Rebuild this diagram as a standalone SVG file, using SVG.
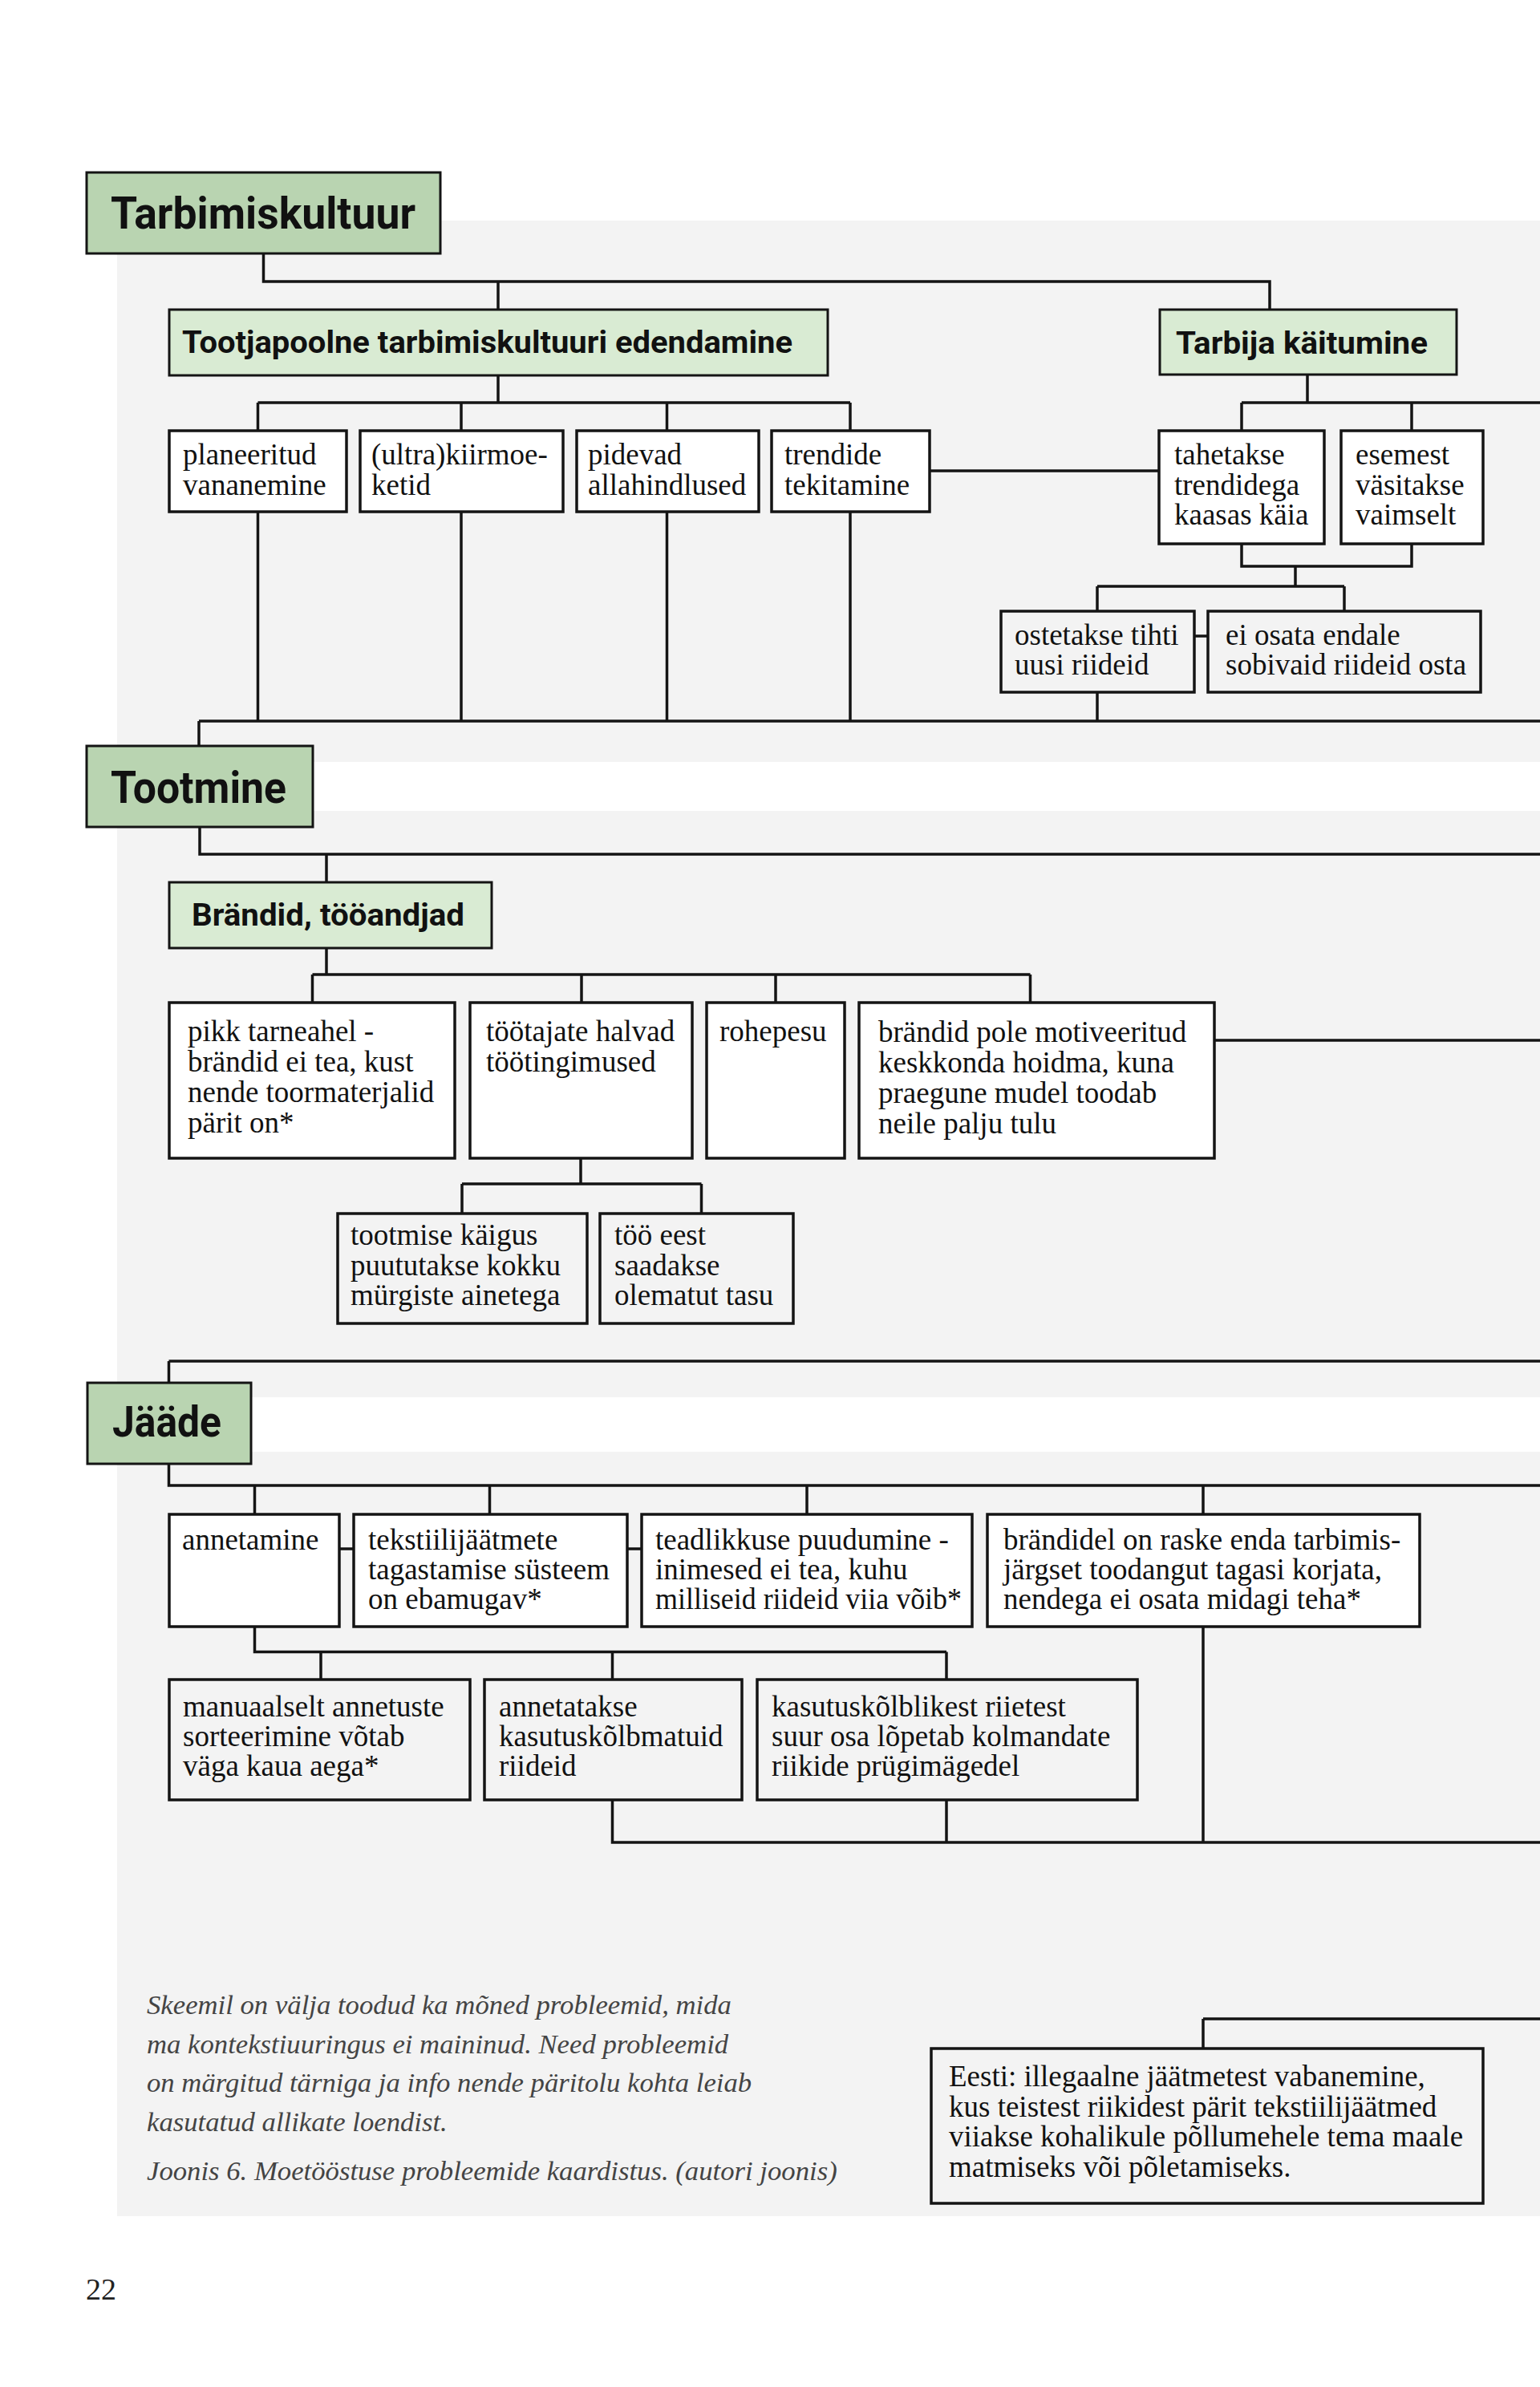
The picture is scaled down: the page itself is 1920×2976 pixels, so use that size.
<svg xmlns="http://www.w3.org/2000/svg" width="1920" height="2976" viewBox="0 0 1920 2976">
<style>
.panel{fill:#f3f3f3}
.band{fill:#ffffff}
.h1{fill:#b9d4b1;stroke:#141414;stroke-width:3}
.h2{fill:#d9ebd3;stroke:#141414;stroke-width:3}
.bw{fill:#ffffff;stroke:#141414;stroke-width:3.5}
.bg{fill:#f3f3f3;stroke:#141414;stroke-width:3.5}
.ht{font-family:Roboto,"Open Sans","Liberation Sans",sans-serif;font-weight:bold;fill:#111}
.t{font-family:"Liberation Serif","Times New Roman",serif;font-size:37px;fill:#111}
.it{font-family:"Liberation Serif","Times New Roman",serif;font-style:italic;font-size:34.7px;fill:#444}
.pg{font-family:"Liberation Serif","Times New Roman",serif;font-size:38px;fill:#222}
#connectors path{fill:none;stroke:#141414;stroke-width:3.5}
</style>
<rect x="0" y="0" width="1920" height="2976" fill="#ffffff"/>
<rect class="panel" x="146" y="275" width="1774" height="2488"/>
<rect class="band" x="146" y="950" width="1774" height="61"/>
<rect class="band" x="146" y="1742" width="1774" height="68"/>

<g id="connectors">
<path d="M328.5 316 V351 H1583 V385"/>
<path d="M621 351 V385"/>
<path d="M621 468 V502 M321.5 502 H1060 M321.5 502 V536 M575 502 V536 M831.5 502 V536 M1060 502 V536"/>
<path d="M1159 587 H1444"/>
<path d="M1630 467 V502 M1548 502 H1920 M1548 502 V536 M1760 502 V536"/>
<path d="M1548 678 V706 H1760 V678 M1615 706 V731 M1368 731 H1676 M1368 731 V761 M1676 731 V761"/>
<path d="M1489 793 H1505"/>
<path d="M1368 863 V899 M248 899 H1920 M248 899 V929 M321.5 638 V899 M575 638 V899 M831.5 638 V899 M1060 638 V899"/>
<path d="M249 1031 V1065 H1920 M407 1065 V1099"/>
<path d="M407 1182 V1215 M389.5 1215 H1284.5 M389.5 1215 V1249 M725 1215 V1249 M967 1215 V1249 M1284.5 1215 V1249"/>
<path d="M1514 1297 H1920"/>
<path d="M724 1444 V1476 M576 1476 H874.5 M576 1476 V1512 M874.5 1476 V1512"/>
<path d="M210.5 1697 H1920 M210.5 1697 V1723"/>
<path d="M210.5 1825 V1852 H1920 M317.5 1852 V1887 M610.5 1852 V1887 M1006 1852 V1887 M1500 1852 V1887"/>
<path d="M423 1931 H440 M782 1931 H799"/>
<path d="M317.5 2028 V2059.5 H1180 M400 2059.5 V2094 M763.5 2059.5 V2094 M1180 2059.5 V2094"/>
<path d="M763.5 2244 V2297 H1920 M1180 2244 V2297 M1500 2028 V2297"/>
<path d="M1500 2517 V2553 M1500 2517 H1920"/>
</g>

<g id="n-tarbimiskultuur">
<rect class="h1" x="108" y="215" width="441" height="101"/>
<text class="ht" x="138" y="285" font-size="55" textLength="380" lengthAdjust="spacingAndGlyphs">Tarbimiskultuur</text>
</g>
<g id="n-tootjapoolne">
<rect class="h2" x="211" y="386" width="821" height="82"/>
<text class="ht" x="227" y="440" font-size="38" textLength="761" lengthAdjust="spacingAndGlyphs">Tootjapoolne tarbimiskultuuri edendamine</text>
</g>
<g id="n-tarbija">
<rect class="h2" x="1446" y="386" width="370" height="81"/>
<text class="ht" x="1466" y="441" font-size="38" textLength="314" lengthAdjust="spacingAndGlyphs">Tarbija käitumine</text>
</g>

<g id="n-planeeritud">
<rect class="bw" x="211" y="537" width="221" height="101"/>
<text class="t" x="228" y="579">planeeritud</text>
<text class="t" x="228" y="617">vananemine</text>
</g>
<g id="n-ultra">
<rect class="bw" x="449" y="537" width="253" height="101"/>
<text class="t" x="463" y="579">(ultra)kiirmoe-</text>
<text class="t" x="463" y="617">ketid</text>
</g>
<g id="n-pidevad">
<rect class="bw" x="719" y="537" width="227" height="101"/>
<text class="t" x="733" y="579">pidevad</text>
<text class="t" x="733" y="617">allahindlused</text>
</g>
<g id="n-trendide">
<rect class="bw" x="962" y="537" width="197" height="101"/>
<text class="t" x="978" y="579">trendide</text>
<text class="t" x="978" y="617">tekitamine</text>
</g>
<g id="n-tahetakse">
<rect class="bw" x="1445" y="537" width="206" height="141"/>
<text class="t" x="1464" y="579">tahetakse</text>
<text class="t" x="1464" y="617">trendidega</text>
<text class="t" x="1464" y="654">kaasas käia</text>
</g>
<g id="n-esemest">
<rect class="bw" x="1672" y="537" width="177" height="141"/>
<text class="t" x="1690" y="579">esemest</text>
<text class="t" x="1690" y="617">väsitakse</text>
<text class="t" x="1690" y="654">vaimselt</text>
</g>
<g id="n-ostetakse">
<rect class="bg" x="1248" y="762" width="241" height="101"/>
<text class="t" x="1265" y="804">ostetakse tihti</text>
<text class="t" x="1265" y="841">uusi riideid</text>
</g>
<g id="n-eiosata">
<rect class="bg" x="1506" y="762" width="340" height="101"/>
<text class="t" x="1528" y="804">ei osata endale</text>
<text class="t" x="1528" y="841">sobivaid riideid osta</text>
</g>

<g id="n-tootmine">
<rect class="h1" x="108" y="930" width="282" height="101"/>
<text class="ht" x="138" y="1001" font-size="55" textLength="219" lengthAdjust="spacingAndGlyphs">Tootmine</text>
</g>
<g id="n-brandid">
<rect class="h2" x="211" y="1100" width="402" height="82"/>
<text class="ht" x="239" y="1154" font-size="39" textLength="340" lengthAdjust="spacingAndGlyphs">Brändid, tööandjad</text>
</g>
<g id="n-pikk">
<rect class="bw" x="211" y="1250" width="356" height="194"/>
<text class="t" x="234" y="1298">pikk tarneahel -</text>
<text class="t" x="234" y="1336">brändid ei tea, kust</text>
<text class="t" x="234" y="1374">nende toormaterjalid</text>
<text class="t" x="234" y="1412">pärit on*</text>
</g>
<g id="n-tootajate">
<rect class="bw" x="586" y="1250" width="277" height="194"/>
<text class="t" x="606" y="1298">töötajate halvad</text>
<text class="t" x="606" y="1336">töötingimused</text>
</g>
<g id="n-rohepesu">
<rect class="bw" x="881" y="1250" width="172" height="194"/>
<text class="t" x="897" y="1298">rohepesu</text>
</g>
<g id="n-brandidpole">
<rect class="bw" x="1071" y="1250" width="443" height="194"/>
<text class="t" x="1095" y="1299">brändid pole motiveeritud</text>
<text class="t" x="1095" y="1337">keskkonda hoidma, kuna</text>
<text class="t" x="1095" y="1375">praegune mudel toodab</text>
<text class="t" x="1095" y="1413">neile palju tulu</text>
</g>
<g id="n-tootmise">
<rect class="bg" x="421" y="1513" width="311" height="137"/>
<text class="t" x="437" y="1552">tootmise käigus</text>
<text class="t" x="437" y="1590">puututakse kokku</text>
<text class="t" x="437" y="1627">mürgiste ainetega</text>
</g>
<g id="n-tooeest">
<rect class="bg" x="748" y="1513" width="241" height="137"/>
<text class="t" x="766" y="1552">töö eest</text>
<text class="t" x="766" y="1590">saadakse</text>
<text class="t" x="766" y="1627">olematut tasu</text>
</g>

<g id="n-jaade">
<rect class="h1" x="109" y="1724" width="204" height="101"/>
<text class="ht" x="140" y="1791" font-size="54" textLength="136" lengthAdjust="spacingAndGlyphs">Jääde</text>
</g>
<g id="n-annetamine">
<rect class="bw" x="211" y="1888" width="212" height="140"/>
<text class="t" x="227" y="1932">annetamine</text>
</g>
<g id="n-tekstiili">
<rect class="bw" x="441" y="1888" width="341" height="140"/>
<text class="t" x="459" y="1932">tekstiilijäätmete</text>
<text class="t" x="459" y="1969">tagastamise süsteem</text>
<text class="t" x="459" y="2006">on ebamugav*</text>
</g>
<g id="n-teadlikkuse">
<rect class="bw" x="800" y="1888" width="412" height="140"/>
<text class="t" x="817" y="1932">teadlikkuse puudumine -</text>
<text class="t" x="817" y="1969">inimesed ei tea, kuhu</text>
<text class="t" x="817" y="2006" textLength="382" lengthAdjust="spacingAndGlyphs">milliseid riideid viia võib*</text>
</g>
<g id="n-brandidel">
<rect class="bw" x="1231" y="1888" width="539" height="140"/>
<text class="t" x="1251" y="1932">brändidel on raske enda tarbimis-</text>
<text class="t" x="1251" y="1969">järgset toodangut tagasi korjata,</text>
<text class="t" x="1251" y="2006">nendega ei osata midagi teha*</text>
</g>
<g id="n-manuaalselt">
<rect class="bg" x="211" y="2094" width="375" height="150"/>
<text class="t" x="228" y="2140">manuaalselt annetuste</text>
<text class="t" x="228" y="2177">sorteerimine võtab</text>
<text class="t" x="228" y="2214">väga kaua aega*</text>
</g>
<g id="n-annetatakse">
<rect class="bg" x="604" y="2094" width="321" height="150"/>
<text class="t" x="622" y="2140">annetatakse</text>
<text class="t" x="622" y="2177">kasutuskõlbmatuid</text>
<text class="t" x="622" y="2214">riideid</text>
</g>
<g id="n-kasutus">
<rect class="bg" x="944" y="2094" width="474" height="150"/>
<text class="t" x="962" y="2140">kasutuskõlblikest riietest</text>
<text class="t" x="962" y="2177">suur osa lõpetab kolmandate</text>
<text class="t" x="962" y="2214">riikide prügimägedel</text>
</g>
<g id="n-eesti">
<rect class="bg" x="1161" y="2554" width="688" height="193"/>
<text class="t" x="1183" y="2601">Eesti: illegaalne jäätmetest vabanemine,</text>
<text class="t" x="1183" y="2639">kus teistest riikidest pärit tekstiilijäätmed</text>
<text class="t" x="1183" y="2676">viiakse kohalikule põllumehele tema maale</text>
<text class="t" x="1183" y="2714">matmiseks või põletamiseks.</text>
</g>

<g id="notes">
<text class="it" x="183" y="2511">Skeemil on välja toodud ka mõned probleemid, mida</text>
<text class="it" x="183" y="2560">ma kontekstiuuringus ei maininud. Need probleemid</text>
<text class="it" x="183" y="2608">on märgitud tärniga ja info nende päritolu kohta leiab</text>
<text class="it" x="183" y="2657">kasutatud allikate loendist.</text>
<text class="it" x="183" y="2718">Joonis 6. Moetööstuse probleemide kaardistus. (autori joonis)</text>
</g>
<text class="pg" x="107" y="2867">22</text>
</svg>
